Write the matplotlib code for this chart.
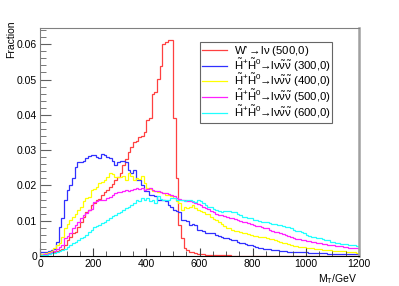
import matplotlib
matplotlib.use("Agg")
import matplotlib.pyplot as plt
import numpy as np

plt.rcParams['font.family'] = ['Liberation Sans', 'DejaVu Sans']
plt.rcParams['mathtext.fontset'] = 'custom'
plt.rcParams['mathtext.rm'] = 'Liberation Sans'
plt.rcParams['mathtext.it'] = 'Liberation Sans'

# 10 GeV bins from 0 to 1200
edges = np.arange(0, 1210, 10)

red = [0.0005, 0.0005, 0.0008, 0.0008, 0.0010, 0.0011, 0.0015, 0.0017, 0.0020, 0.0030,
       0.0045, 0.0055, 0.0065, 0.0068, 0.0083, 0.0095, 0.0110, 0.0125, 0.0130, 0.0144,
       0.0150, 0.0159, 0.0162, 0.0172, 0.0180, 0.0186, 0.0195, 0.0205, 0.0215, 0.0225,
       0.0235, 0.0258, 0.0275, 0.0295, 0.0310, 0.0324, 0.0326, 0.0336, 0.0340, 0.0350,
       0.0385, 0.0390, 0.0460, 0.0465, 0.0502, 0.0538, 0.0600, 0.0605, 0.0613, 0.0613,
       0.0390, 0.0220, 0.0088, 0.0050, 0.0023, 0.0018, 0.0012, 0.0010, 0.0008, 0.0006,
       0.0005, 0.0005, 0.0004, 0.0004, 0.0003, 0.0003, 0.0003, 0.0002, 0.0002, 0.0002,
       0.0002, 0.0002, 0.0001, 0.0001, 0.0001, 0.0001, 0.0001, 0.0001, 0.0001, 0.0001,
       0.0001, 0.0001, 0.0001, 0.00005, 0.00005, 0.00005, 0.0, 0.00005, 0.0, 0.0,
       0.0, 0.0, 0.0, 0.0, 0.0, 0.0, 0.0, 0.0, 0.0, 0.0,
       0.0, 0.0, 0.0, 0.0, 0.0, 0.0, 0.0, 0.0, 0.0, 0.0,
       0.0, 0.0, 0.0, 0.0, 0.0, 0.0, 0.0, 0.0, 0.0, 0.0]

blue = [0.0010, 0.0012, 0.0012, 0.0015, 0.0018, 0.0020, 0.0040, 0.0083, 0.0107, 0.0159,
        0.0187, 0.0201, 0.0220, 0.0253, 0.0267, 0.0265, 0.0270, 0.0277, 0.0283, 0.0286,
        0.0286, 0.0280, 0.0277, 0.0290, 0.0286, 0.0281, 0.0277, 0.0270, 0.0258, 0.0265,
        0.0270, 0.0268, 0.0266, 0.0244, 0.0235, 0.0244, 0.0216, 0.0214, 0.0202, 0.0184,
        0.0184, 0.0174, 0.0172, 0.0170, 0.0160, 0.0158, 0.0160, 0.0155, 0.0145, 0.0140,
        0.0131, 0.0128, 0.0125, 0.0103, 0.0103, 0.0098, 0.0089, 0.0090, 0.0087, 0.0075,
        0.0074, 0.0070, 0.0065, 0.0066, 0.0064, 0.0066, 0.0060, 0.0058, 0.0055, 0.0050,
        0.0050, 0.0047, 0.0045, 0.0044, 0.0040, 0.0036, 0.0036, 0.0033, 0.0031, 0.0031,
        0.0027, 0.0026, 0.0024, 0.0022, 0.0021, 0.0020, 0.0019, 0.0017, 0.0017, 0.0016,
        0.0015, 0.0014, 0.0013, 0.0012, 0.0012, 0.0012, 0.0011, 0.0011, 0.0010, 0.0010,
        0.0010, 0.0009, 0.0009, 0.0009, 0.0008, 0.0009, 0.0008, 0.0008, 0.0007, 0.0007,
        0.0007, 0.0007, 0.0006, 0.0007, 0.0006, 0.0006, 0.0005, 0.0006, 0.0005, 0.0005]

yellow = [0.0005, 0.0006, 0.0008, 0.0010, 0.0015, 0.0022, 0.0030, 0.0037, 0.0055, 0.0079,
          0.0090, 0.0102, 0.0111, 0.0120, 0.0130, 0.0140, 0.0155, 0.0164, 0.0168, 0.0187,
          0.0190, 0.0196, 0.0206, 0.0210, 0.0215, 0.0225, 0.0234, 0.0232, 0.0225, 0.0224,
          0.0225, 0.0228, 0.0215, 0.0234, 0.0226, 0.0215, 0.0221, 0.0218, 0.0226, 0.0207,
          0.0193, 0.0190, 0.0183, 0.0185, 0.0180, 0.0180, 0.0178, 0.0174, 0.0172, 0.0170,
          0.0165, 0.0156, 0.0150, 0.0131, 0.0140, 0.0135, 0.0138, 0.0145, 0.0135, 0.0130,
          0.0128, 0.0126, 0.0120, 0.0118, 0.0110, 0.0105, 0.0102, 0.0097, 0.0092, 0.0085,
          0.0078, 0.0078, 0.0074, 0.0072, 0.0070, 0.0069, 0.0066, 0.0064, 0.0062, 0.0060,
          0.0058, 0.0057, 0.0055, 0.0053, 0.0053, 0.0050, 0.0047, 0.0047, 0.0045, 0.0043,
          0.0040, 0.0038, 0.0036, 0.0034, 0.0030, 0.0028, 0.0027, 0.0026, 0.0025, 0.0025,
          0.0024, 0.0022, 0.0022, 0.0020, 0.0020, 0.0019, 0.0018, 0.0017, 0.0017, 0.0016,
          0.0015, 0.0015, 0.0014, 0.0013, 0.0013, 0.0012, 0.0012, 0.0011, 0.0010, 0.0009]

magenta = [0.0004, 0.0005, 0.0006, 0.0008, 0.0010, 0.0013, 0.0020, 0.0025, 0.0031, 0.0050,
           0.0058, 0.0064, 0.0078, 0.0088, 0.0097, 0.0107, 0.0115, 0.0121, 0.0130, 0.0132,
           0.0154, 0.0156, 0.0159, 0.0160, 0.0159, 0.0163, 0.0166, 0.0173, 0.0178, 0.0182,
           0.0182, 0.0185, 0.0187, 0.0185, 0.0187, 0.0190, 0.0193, 0.0191, 0.0193, 0.0188,
           0.0190, 0.0192, 0.0186, 0.0183, 0.0185, 0.0180, 0.0178, 0.0178, 0.0176, 0.0174,
           0.0170, 0.0164, 0.0162, 0.0160, 0.0158, 0.0155, 0.0157, 0.0153, 0.0150, 0.0148,
           0.0145, 0.0140, 0.0136, 0.0132, 0.0128, 0.0124, 0.0120, 0.0117, 0.0116, 0.0113,
           0.0110, 0.0109, 0.0107, 0.0104, 0.0101, 0.0099, 0.0097, 0.0095, 0.0093, 0.0090,
           0.0088, 0.0086, 0.0084, 0.0081, 0.0079, 0.0078, 0.0075, 0.0072, 0.0069, 0.0068,
           0.0066, 0.0063, 0.0060, 0.0058, 0.0055, 0.0050, 0.0049, 0.0048, 0.0046, 0.0045,
           0.0043, 0.0042, 0.0040, 0.0040, 0.0038, 0.0036, 0.0035, 0.0033, 0.0032, 0.0031,
           0.0031, 0.0029, 0.0028, 0.0027, 0.0026, 0.0025, 0.0024, 0.0023, 0.0022, 0.0022]

cyan = [0.0002, 0.0003, 0.0004, 0.0005, 0.0008, 0.0008, 0.0010, 0.0013, 0.0017, 0.0020,
        0.0026, 0.0030, 0.0036, 0.0040, 0.0045, 0.0050, 0.0055, 0.0060, 0.0069, 0.0075,
        0.0083, 0.0085, 0.0088, 0.0093, 0.0097, 0.0102, 0.0107, 0.0112, 0.0116, 0.0121,
        0.0125, 0.0130, 0.0135, 0.0140, 0.0145, 0.0149, 0.0159, 0.0155, 0.0164, 0.0158,
        0.0164, 0.0156, 0.0158, 0.0150, 0.0169, 0.0162, 0.0158, 0.0160, 0.0160, 0.0163,
        0.0164, 0.0160, 0.0160, 0.0158, 0.0155, 0.0158, 0.0160, 0.0155, 0.0152, 0.0158,
        0.0155, 0.0150, 0.0145, 0.0140, 0.0138, 0.0132, 0.0130, 0.0128, 0.0126, 0.0128,
        0.0127, 0.0127, 0.0125, 0.0126, 0.0120, 0.0115, 0.0111, 0.0110, 0.0107, 0.0107,
        0.0102, 0.0102, 0.0099, 0.0097, 0.0097, 0.0097, 0.0094, 0.0092, 0.0090, 0.0088,
        0.0088, 0.0085, 0.0083, 0.0081, 0.0079, 0.0075, 0.0072, 0.0070, 0.0068, 0.0064,
        0.0060, 0.0058, 0.0055, 0.0055, 0.0052, 0.0050, 0.0048, 0.0046, 0.0044, 0.0041,
        0.0040, 0.0038, 0.0037, 0.0035, 0.0034, 0.0033, 0.0032, 0.0030, 0.0031, 0.0028]

hh = r"$\mathregular{\tilde{H}^{+}\tilde{H}^{0}\!\!\rightarrow\! l\nu\tilde{\nu}\tilde{\nu}}$"
labels = [r"W'$\mathregular{\rightarrow\! l\nu}$ (500,0)",
          hh + " (300,0)", hh + " (400,0)", hh + " (500,0)", hh + " (600,0)"]
series = [red, blue, yellow, magenta, cyan]
colors = ['#ff4040', '#3030ff', '#ffff00', '#ff20ff', '#20ffff']

fig = plt.figure(figsize=(3.99, 2.86), dpi=100)
ax = fig.add_axes([0.1003, 0.1049, 0.7994, 0.7972])

for vals, c, lab in zip(series, colors, labels):
    ax.stairs(vals, edges, color=c, linewidth=0.9, label=lab)

ax.set_xlim(0, 1200)
ax.set_ylim(0, 0.0646)
ax.set_xticks([0, 200, 400, 600, 800, 1000, 1200])
ax.set_xticks(np.arange(0, 1201, 50), minor=True)
ax.set_yticks([0, 0.01, 0.02, 0.03, 0.04, 0.05, 0.06])
ax.set_yticks(np.arange(0, 0.0646, 0.002), minor=True)
ax.set_yticklabels(['0', '0.01', '0.02', '0.03', '0.04', '0.05', '0.06'])
ax.tick_params(which='both', direction='in', labelsize=7.5, pad=2)
ax.tick_params(axis='y', which='major', length=8, color='#606060')
ax.tick_params(axis='y', which='minor', length=4, color='#606060')
ax.tick_params(axis='x', which='major', length=6, color='#404040')
ax.tick_params(axis='x', which='minor', length=3.5, color='#404040')

for s in ['left', 'top']:
    ax.spines[s].set_color('#808080')
ax.spines['right'].set_color('#a0a0a0')
ax.spines['right'].set_linewidth(1.8)
ax.spines['bottom'].set_color('black')

ax.set_xlabel(r"M$_T$/GeV", fontsize=7.5, loc='right')
ax.xaxis.set_label_coords(0.995, -0.07)
ax.set_ylabel("Fraction", fontsize=7.5, loc='top')
ax.yaxis.set_label_coords(-0.075, 1.035)

leg = ax.legend(loc='upper left', bbox_to_anchor=(0.5016, 0.9386), borderaxespad=0,
                fontsize=8.2, frameon=True, fancybox=False, edgecolor='#404040',
                handlelength=2.2, labelspacing=-0.12, borderpad=0.15, handletextpad=0.6)
leg.get_frame().set_linewidth(0.8)

fig.savefig("out.png", dpi=100)
